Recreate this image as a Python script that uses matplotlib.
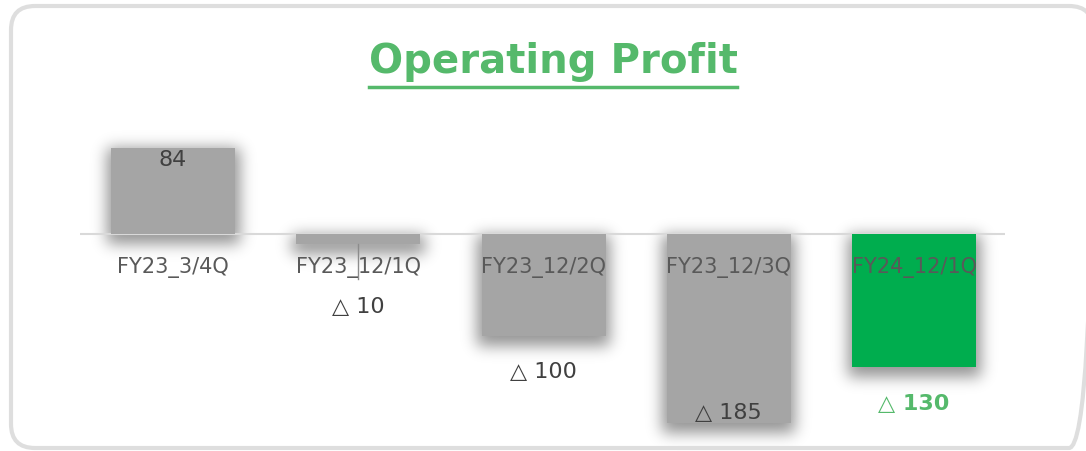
import numpy as np
import matplotlib.pyplot as plt
from matplotlib.patches import FancyBboxPatch

# data
categories = ['FY23_3/4Q', 'FY23_12/1Q', 'FY23_12/2Q', 'FY23_12/3Q', 'FY24_12/1Q']
values = [84, -10, -100, -185, -130]
labels = ['84', '△ 10', '△ 100', '△ 185', '△ 130']

GREY = '#a5a5a5'
GREEN = '#00ad4e'
TITLE_GREEN = '#55b96b'
TEXT = '#595959'

W, H = 1086, 452
fig = plt.figure(figsize=(W / 100, H / 100), dpi=100)
fig.patch.set_facecolor('white')

# pixel-space overlay for the frame and the shadows
bg = fig.add_axes([0, 0, 1, 1], zorder=0)
bg.axis('off')

# axes placed in pixel terms
px_x = 185.25          # pixels per category
px_y = 1.024           # pixels per unit
zero_px = 235
left_px, right_px = 80, 1005
top_px, bot_px = 110, 445
ax = fig.add_axes([left_px / W, (H - bot_px) / H, (right_px - left_px) / W, (bot_px - top_px) / H], zorder=1)
ax.set_xlim((left_px - 173) / px_x, (right_px - 173) / px_x)
ax.set_ylim(-(bot_px - zero_px) / px_y, (zero_px - top_px) / px_y)
ax.axis('off')
ax.patch.set_alpha(0)

x = np.arange(len(categories))
colors = [GREY] * 4 + [GREEN]
bw = 124 / px_x

bars = ax.bar(x, values, width=bw, color=colors, zorder=3)
ax.axhline(0, color='#d9d9d9', lw=1.5, zorder=2)

# leader line on the second bar
ax.plot([x[1], x[1]], [values[1], -44], color='#8c8c8c', lw=1, zorder=4)

# category labels
for xi, c in zip(x, categories):
    ax.text(xi, -33 / px_y, c, ha='center', va='center', fontsize=15, color=TEXT, zorder=5)

# value labels
label_y = [values[0] - 11 / px_y, -72 / px_y, values[2] - 35 / px_y, values[3] + 11 / px_y, values[4] - 36 / px_y]
for i, (xi, t) in enumerate(zip(x, labels)):
    if i == 4:
        ax.text(xi, label_y[i], t, ha='center', va='center', fontsize=16,
                color=TITLE_GREEN, fontweight='bold', zorder=5)
    else:
        ax.text(xi, label_y[i], t, ha='center', va='center', fontsize=16, color='#404040', zorder=5)

# title with underline
title = fig.text(553 / W, 1 - 62 / H, 'Operating Profit', ha='center', va='center',
                 fontsize=29, fontweight='bold', color=TITLE_GREEN)
fig.canvas.draw()
bb = title.get_window_extent().transformed(fig.transFigure.inverted())
fig.add_artist(plt.Line2D([bb.x0, bb.x1], [1 - 88 / H, 1 - 88 / H], transform=fig.transFigure,
                          color=TITLE_GREEN, lw=2.5))

# blurred drop shadow behind the bars
mask = np.zeros((H, W))
for b in bars:
    e = b.get_window_extent()
    x0, x1 = int(e.x0) - 4, int(e.x1) + 5
    y0, y1 = int(H - e.y1) + 1, int(H - e.y0) + 10
    mask[max(y0, 0):min(y1, H), max(x0, 0):min(x1, W)] = 1
r = np.arange(-26, 27)
kern = np.exp(-r ** 2 / (2 * 7.5 ** 2))
kern /= kern.sum()
mask = np.apply_along_axis(lambda v: np.convolve(v, kern, mode='same'), 0, mask)
mask = np.apply_along_axis(lambda v: np.convolve(v, kern, mode='same'), 1, mask)
img = np.zeros((H, W, 4))
img[..., 3] = mask * 0.42
bg.imshow(img, extent=(0, W, H, 0), interpolation='nearest', zorder=1, aspect='auto')

bg.add_patch(FancyBboxPatch((11, 7), 1082, 442, boxstyle='round,pad=0,rounding_size=24',
                            facecolor='none', edgecolor='#dedede', linewidth=3, zorder=3))
bg.set_xlim(0, W)
bg.set_ylim(H, 0)

fig.savefig('out.png', dpi=100)
